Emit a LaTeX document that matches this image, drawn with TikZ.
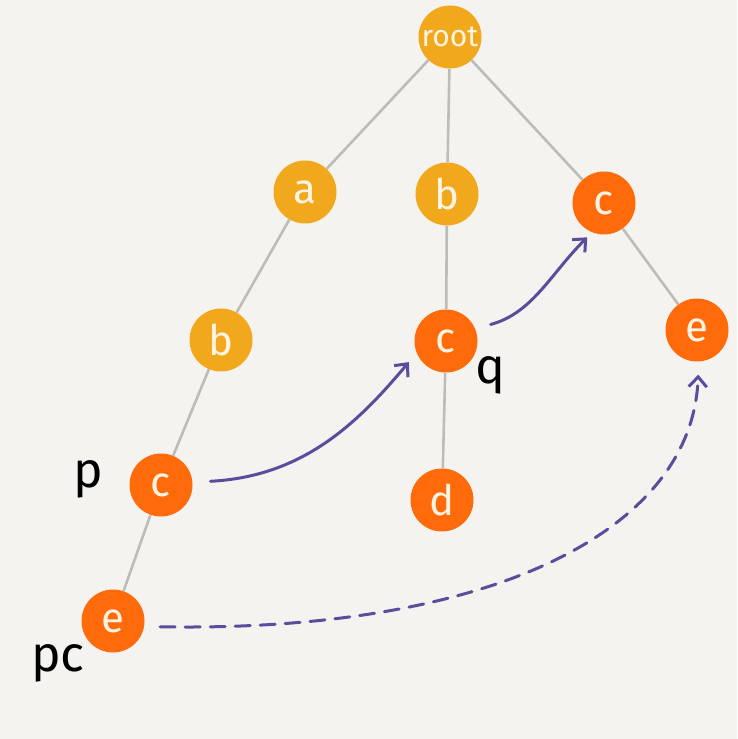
\documentclass[tikz,border=0pt]{standalone}
\usepackage{fontspec}
\setmainfont{Fira Sans}
\usetikzlibrary{arrows.meta}
\definecolor{bg}{HTML}{F5F3EF}
\definecolor{yel}{HTML}{F2A81D}
\definecolor{org}{HTML}{FF6A0A}
\definecolor{edge}{HTML}{BEBCB8}
\definecolor{pur}{HTML}{5B4C9C}
\definecolor{txt}{HTML}{FFF4E2}
\tikzset{
  nd/.style={circle, minimum size=63pt, inner sep=0pt, text=txt,
    font=\fontsize{42}{42}\selectfont},
  ynd/.style={nd, fill=yel},
  ond/.style={nd, fill=org},
  tree/.style={draw=edge, line width=2.6pt},
  arr/.style={draw=pur, line width=3pt, line cap=round,
    -{Straight Barb[length=10pt,width=18pt,line width=3pt]}},
  lab/.style={font=\fontsize{50}{50}\selectfont, text=black}
}
\begin{document}
\begin{tikzpicture}[x=1pt,y=1pt]
\fill[bg] (0,0) rectangle (737,739);
\useasboundingbox (0,0) rectangle (737,739);
\node[ynd, font=\fontsize{30}{30}\selectfont] (root) at (450,702) {root};
\node[ynd] (a) at (305,547) {a};
\node[ynd] (b) at (447,545) {b};
\node[ond] (cR) at (604,536) {c};
\node[ynd] (bL) at (221,399) {b};
\node[ond] (cQ) at (446,398) {c};
\node[ond] (eR) at (697,409) {e};
\node[ond] (cP) at (161,254) {c};
\node[ond] (d) at (442,239) {d};
\node[ond] (ePC) at (113,118) {e};
\node[lab] (p) at (88,260) {p};
\node[lab] (q) at (490,364) {q};
\node[lab] (pc) at (58,76) {pc};
\draw[tree] (root) -- (a);
\draw[tree] (root) -- (b);
\draw[tree] (root) -- (cR);
\draw[tree] (a) -- (bL);
\draw[tree] (bL) -- (cP);
\draw[tree] (cP) -- (ePC);
\draw[tree] (b) -- (cQ);
\draw[tree] (cQ) -- (d);
\draw[tree] (cR) -- (eR);
\draw[arr, shorten <=18pt, shorten >=12pt] (cP.5) to[out=3,in=230,out looseness=1.1,in looseness=0.9] (cQ.202);
\draw[arr, shorten <=16pt, shorten >=7pt] (cQ.23) to[out=15,in=225] (cR.248);
\draw[arr, dash pattern=on 15pt off 10pt, shorten <=16pt, shorten >=13pt] (ePC.-10) to[out=-1,in=268,out looseness=1.45,in looseness=0.7] (eR.273);
\end{tikzpicture}
\end{document}
